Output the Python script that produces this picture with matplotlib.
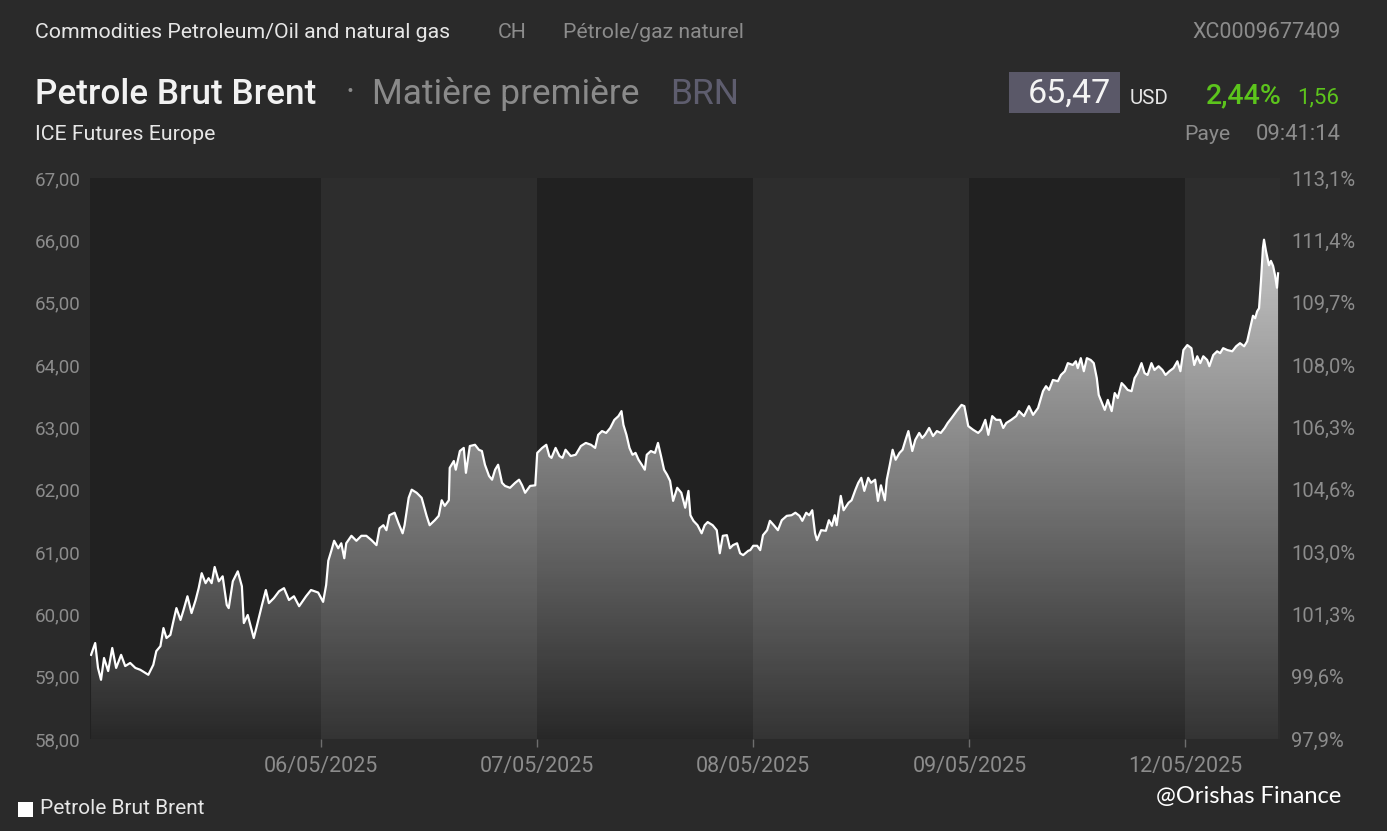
import numpy as np
import matplotlib
matplotlib.use("Agg")
import matplotlib.pyplot as plt
from matplotlib.patches import PathPatch, Rectangle

# ---------------- data ----------------
# session time in trading-day units (0 = start of 05/05/2025 session)
t_day0 = [-0.065, -0.046, -0.033, -0.019, -0.005, 0.014, 0.033, 0.051, 0.074, 0.093,
          0.116, 0.140, 0.163, 0.186, 0.200, 0.223, 0.237, 0.256, 0.270, 0.284,
          0.302, 0.316, 0.330, 0.349, 0.363, 0.381, 0.400, 0.419, 0.433, 0.447,
          0.465, 0.479, 0.493, 0.507, 0.526, 0.544, 0.563, 0.572, 0.591, 0.614,
          0.633, 0.642, 0.660, 0.688, 0.702, 0.726, 0.744, 0.758, 0.781, 0.805,
          0.828, 0.851, 0.874, 0.898, 0.930, 0.953, 0.986]
p_day0 = [59.35, 59.54, 59.14, 58.95, 59.30, 59.09, 59.46, 59.14, 59.35, 59.17,
          59.22, 59.14, 59.11, 59.06, 59.03, 59.19, 59.41, 59.49, 59.78, 59.62,
          59.67, 59.89, 60.10, 59.91, 60.07, 60.29, 60.02, 60.23, 60.42, 60.66,
          60.50, 60.58, 60.50, 60.76, 60.53, 60.61, 60.15, 60.10, 60.53, 60.69,
          60.45, 59.86, 59.99, 59.62, 59.81, 60.15, 60.39, 60.18, 60.26, 60.37,
          60.42, 60.23, 60.29, 60.13, 60.29, 60.39, 60.35]

t_day1 = [1.009, 1.023, 1.033, 1.047, 1.060, 1.079, 1.093, 1.107, 1.116, 1.140,
          1.163, 1.186, 1.209, 1.233, 1.256, 1.270, 1.288, 1.302, 1.316, 1.340,
          1.358, 1.377, 1.386, 1.405, 1.419, 1.442, 1.465, 1.488, 1.502, 1.526,
          1.544, 1.558, 1.572, 1.591, 1.595, 1.614, 1.623, 1.642, 1.660, 1.670,
          1.688, 1.712, 1.730, 1.744, 1.758, 1.777, 1.791, 1.805, 1.819, 1.837,
          1.851, 1.874, 1.898, 1.916, 1.930, 1.944, 1.967, 1.991]
p_day1 = [60.20, 60.47, 60.86, 61.02, 61.18, 61.06, 61.14, 60.90, 61.14, 61.26,
          61.18, 61.26, 61.26, 61.19, 61.11, 61.38, 61.43, 61.35, 61.59, 61.63,
          61.46, 61.30, 61.43, 61.87, 62.00, 61.95, 61.87, 61.58, 61.43, 61.51,
          61.58, 61.83, 61.74, 61.83, 62.35, 62.46, 62.32, 62.62, 62.67, 62.27,
          62.70, 62.72, 62.64, 62.62, 62.40, 62.22, 62.16, 62.32, 62.40, 62.11,
          62.06, 62.03, 62.11, 62.16, 62.07, 61.95, 62.06, 62.07]

t_day2 = [2.000, 2.023, 2.042, 2.056, 2.066, 2.085, 2.103, 2.117, 2.131, 2.155,
          2.178, 2.202, 2.225, 2.249, 2.268, 2.282, 2.300, 2.319, 2.338, 2.357,
          2.376, 2.390, 2.399, 2.413, 2.427, 2.441, 2.455, 2.469, 2.484, 2.498,
          2.507, 2.526, 2.545, 2.559, 2.573, 2.587, 2.601, 2.615, 2.629, 2.648,
          2.667, 2.685, 2.700, 2.709, 2.723, 2.742, 2.761, 2.775, 2.789, 2.812,
          2.831, 2.845, 2.859, 2.878, 2.892, 2.906, 2.925, 2.939, 2.953, 2.977,
          2.986]
p_day2 = [62.59, 62.67, 62.72, 62.54, 62.51, 62.67, 62.54, 62.51, 62.64, 62.54,
          62.56, 62.70, 62.75, 62.72, 62.67, 62.88, 62.94, 62.91, 62.99, 63.12,
          63.18, 63.26, 63.04, 62.88, 62.67, 62.56, 62.59, 62.48, 62.40, 62.32,
          62.56, 62.62, 62.59, 62.75, 62.54, 62.32, 62.24, 62.14, 61.82, 62.03,
          61.95, 61.71, 61.98, 61.59, 61.50, 61.43, 61.30, 61.43, 61.48, 61.43,
          61.35, 60.98, 61.26, 61.27, 61.06, 61.11, 61.14, 60.98, 60.95, 61.02,
          61.03]

t_day3 = [3.000, 3.018, 3.032, 3.045, 3.064, 3.077, 3.095, 3.114, 3.132, 3.155,
          3.177, 3.195, 3.214, 3.227, 3.245, 3.259, 3.273, 3.286, 3.295, 3.314,
          3.336, 3.350, 3.364, 3.377, 3.386, 3.405, 3.418, 3.441, 3.455, 3.473,
          3.486, 3.500, 3.514, 3.532, 3.545, 3.564, 3.577, 3.591, 3.609, 3.618,
          3.632, 3.645, 3.659, 3.677, 3.691, 3.705, 3.718, 3.736, 3.750, 3.768,
          3.782, 3.795, 3.814, 3.832, 3.850, 3.868, 3.886, 3.900, 3.918, 3.941,
          3.964, 3.977, 3.995]
p_day3 = [61.10, 61.10, 61.03, 61.27, 61.35, 61.50, 61.43, 61.35, 61.51, 61.58,
          61.59, 61.63, 61.58, 61.50, 61.63, 61.59, 61.67, 61.30, 61.19, 61.35,
          61.34, 61.51, 61.42, 61.59, 61.43, 61.90, 61.67, 61.79, 61.83, 62.00,
          62.11, 62.19, 61.98, 62.19, 62.11, 62.16, 61.82, 62.07, 61.83, 62.16,
          62.40, 62.64, 62.48, 62.59, 62.64, 62.80, 62.94, 62.62, 62.80, 62.91,
          62.83, 62.88, 62.99, 62.86, 62.94, 62.91, 62.99, 63.07, 63.15, 63.26,
          63.36, 63.34, 63.02]

t_day4 = [4.018, 4.041, 4.055, 4.074, 4.088, 4.106, 4.124, 4.143, 4.157, 4.171,
          4.194, 4.217, 4.230, 4.253, 4.276, 4.295, 4.318, 4.341, 4.355, 4.369,
          4.387, 4.410, 4.424, 4.442, 4.456, 4.479, 4.493, 4.502, 4.516, 4.530,
          4.544, 4.562, 4.576, 4.590, 4.599, 4.618, 4.627, 4.641, 4.659, 4.673,
          4.687, 4.705, 4.719, 4.733, 4.751, 4.765, 4.779, 4.797, 4.811, 4.825,
          4.843, 4.857, 4.876, 4.894, 4.908, 4.926, 4.945, 4.963, 4.977, 4.991]
p_day4 = [62.96, 62.91, 62.96, 63.12, 62.88, 63.18, 63.12, 63.12, 62.99, 63.07,
          63.12, 63.18, 63.26, 63.18, 63.34, 63.20, 63.31, 63.58, 63.66, 63.60,
          63.76, 63.74, 63.84, 63.90, 64.03, 64.00, 64.06, 63.95, 64.11, 63.90,
          64.11, 64.08, 64.03, 63.79, 63.52, 63.36, 63.28, 63.44, 63.26, 63.55,
          63.47, 63.71, 63.66, 63.60, 63.58, 63.79, 63.87, 64.03, 63.87, 63.84,
          64.03, 63.92, 63.98, 63.92, 63.84, 63.90, 63.95, 64.06, 63.90, 64.24]

t_day5 = [5.009, 5.028, 5.041, 5.055, 5.069, 5.083, 5.101, 5.111, 5.129, 5.147,
          5.161, 5.175, 5.194, 5.217, 5.235, 5.253, 5.272, 5.286, 5.300, 5.313,
          5.323, 5.332, 5.341, 5.350, 5.359, 5.364, 5.373, 5.378, 5.387, 5.396,
          5.406, 5.415, 5.424, 5.429]
p_day5 = [64.32, 64.27, 64.00, 64.14, 64.03, 64.14, 64.08, 63.98, 64.16, 64.22,
          64.19, 64.27, 64.24, 64.22, 64.30, 64.35, 64.30, 64.38, 64.59, 64.79,
          64.75, 64.86, 64.91, 65.35, 65.88, 66.01, 65.83, 65.75, 65.60, 65.67,
          65.59, 65.44, 65.24, 65.47]

date_labels = ["06/05/2025", "07/05/2025", "08/05/2025", "09/05/2025", "12/05/2025"]
left_ticks = [58, 59, 60, 61, 62, 63, 64, 65, 66, 67]
left_labels = ["58,00", "59,00", "60,00", "61,00", "62,00", "63,00", "64,00", "65,00", "66,00", "67,00"]
right_labels = ["97,9%", "99,6%", "101,3%", "103,0%", "104,6%", "106,3%", "108,0%", "109,7%", "111,4%", "113,1%"]

last_price = "65,47"
change_pct = "2,44%"
change_abs = "1,56"

# ---------------- style ----------------
BG = "#2a2a2a"
DARK_BAND = "#212121"
LIGHT_BAND = "#2d2d2d"
GRAY = "#8c8c8c"
TXT = "#e6e6e6"
FONT = ["Roboto", "DejaVu Sans"]
plt.rcParams["font.family"] = FONT

t = np.array(t_day0 + t_day1 + t_day2 + t_day3 + t_day4 + t_day5)
p = np.array(p_day0 + p_day1 + p_day2 + p_day3 + p_day4 + p_day5)

W, H = 1387, 831
fig = plt.figure(figsize=(W / 100, H / 100), dpi=100, facecolor=BG)

x0, x1 = 90, 1280
y_top, y_bot = 178, 739
ax = fig.add_axes([x0 / W, 1 - y_bot / H, (x1 - x0) / W, (y_bot - y_top) / H])
ax.set_facecolor(BG)
xmin, xmax = -0.070, 5.438
ymin, ymax = 58, 67
ax.set_xlim(xmin, xmax)
ax.set_ylim(ymin, ymax)

# day bands
bounds = [xmin, 1, 2, 3, 4, 5, xmax]
for i in range(len(bounds) - 1):
    ax.axvspan(bounds[i], bounds[i + 1], color=DARK_BAND if i % 2 == 0 else LIGHT_BAND,
               lw=0, zorder=0)

# gradient fill under the curve
poly = ax.fill_between(t, p, ymin, facecolor="none", edgecolor="none", zorder=1)
clip = PathPatch(poly.get_paths()[0], transform=ax.transData, facecolor="none", edgecolor="none")
ax.add_patch(clip)
ng = 256
alpha = np.linspace(0.035, 0.81, ng)
grad = np.ones((ng, 2, 4))
grad[:, :, 3] = alpha[:, None]
im = ax.imshow(grad, extent=[xmin, xmax, ymin, ymax], origin="lower", aspect="auto",
               interpolation="bilinear", zorder=2)
im.set_clip_path(clip)

ax.plot(t, p, color="white", lw=1.6, zorder=3, solid_joinstyle="round")

for s in ax.spines.values():
    s.set_visible(False)

ax.set_xticks([1, 2, 3, 4, 5])
ax.set_xticklabels(date_labels)
ax.tick_params(axis="x", colors="#6e6e6e", length=6, width=1, direction="out", pad=6,
               labelsize=15.5, labelcolor=GRAY)
ax.set_yticks(left_ticks)
ax.set_yticklabels(left_labels)
ax.tick_params(axis="y", length=0, pad=7, labelsize=13.5, labelcolor=GRAY)

ax2 = ax.twinx()
ax2.set_ylim(ymin, ymax)
ax2.set_yticks(left_ticks)
ax2.set_yticklabels(right_labels)
ax2.tick_params(axis="y", length=0, pad=8, labelsize=14.5, labelcolor=GRAY)
for s in ax2.spines.values():
    s.set_visible(False)

# ---------------- header texts ----------------
def ft(x, y, s, **kw):
    kw.setdefault("family", FONT)
    fig.text(x / W, 1 - y / H, s, **kw)

ft(35, 32, "Commodities Petroleum/Oil and natural gas", color=TXT, fontsize=15.3, va="center")
ft(498, 32, "CH", color=GRAY, fontsize=15.3, va="center")
ft(563, 32, "Pétrole/gaz naturel", color=GRAY, fontsize=15.3, va="center")
ft(1341, 32, "XC0009677409", color=GRAY, fontsize=15.5, va="center", ha="right")

ft(35, 94, "Petrole Brut Brent", color="#f2f2f2", fontsize=25.3, va="center", fontweight="medium")
ft(345, 94, "·", color=GRAY, fontsize=25, va="center")
ft(372, 94, "Matière première", color="#8a8a8a", fontsize=25.4, va="center")
ft(670, 94, "BRN", color="#5e5d6e", fontsize=25.5, va="center")
ft(35, 134, "ICE Futures Europe", color=TXT, fontsize=15.3, va="center")

fig.patches.append(Rectangle((1009 / W, 1 - 113 / H), 111 / W, 41 / H, transform=fig.transFigure,
                             facecolor="#5a5868", edgecolor="none"))
ft(1111, 94, last_price, color="#f4f4f4", fontsize=24.5, va="center", ha="right")
ft(1130, 98, "USD", color=TXT, fontsize=14.8, va="center")
ft(1282, 96, change_pct, color="#5cc41c", fontsize=20.5, va="center", ha="right",
   fontweight="medium")
ft(1339, 98, change_abs, color="#5cc41c", fontsize=16, va="center", ha="right")
ft(1230, 134, "Paye", color=GRAY, fontsize=15.3, va="center", ha="right")
ft(1341, 134, "09:41:14", color=GRAY, fontsize=15.8, va="center", ha="right")

# legend
fig.patches.append(Rectangle((18 / W, 1 - 817 / H), 15 / W, 15 / H, transform=fig.transFigure,
                             facecolor="white", edgecolor="none"))
ft(40, 809, "Petrole Brut Brent", color=TXT, fontsize=15, va="center")

ft(1341, 797, "@Orishas Finance", color="white", fontsize=17, va="center", ha="right",
   family=["Lato", "DejaVu Sans"])

fig.savefig("out.png", dpi=100, facecolor=BG)
